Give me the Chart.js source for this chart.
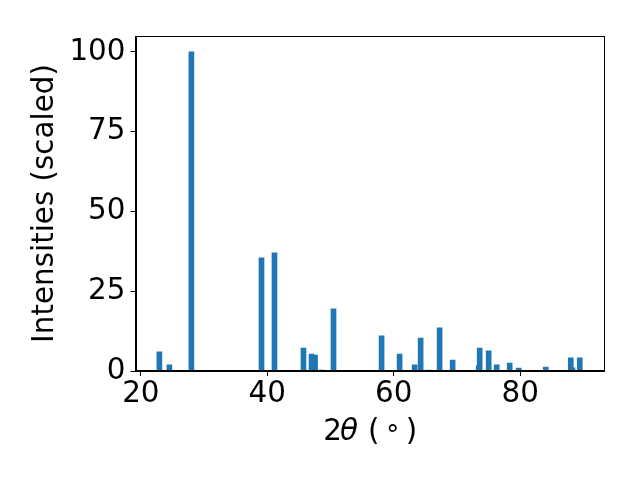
<!DOCTYPE html>
<html>
<head>
<meta charset="utf-8">
<script src="https://cdn.jsdelivr.net/npm/chart.js@4/dist/chart.umd.min.js"></script>
<style>
  html, body { margin: 0; padding: 0; background: #ffffff; }
  #wrap { width: 640px; height: 480px; position: relative; }
</style>
</head>
<body>
<div id="wrap"><canvas id="c" width="640" height="480"></canvas></div>
<script>
// ---- data ----
const twoTheta = [22.93, 24.51, 27.99, 39.08, 41.13, 45.72, 46.99, 47.55, 48.57, 50.47,
                  58.07, 60.92, 63.30, 64.25, 65.52, 67.25, 69.31, 73.43, 73.59, 75.01,
                  76.28, 78.34, 79.76, 84.04, 88.00, 88.26, 89.42];
const intensities = [6.0, 1.9, 100, 35.45, 37.0, 7.2, 5.3, 5.0, 0.3, 19.45,
                     11.0, 5.3, 1.9, 10.35, 0.3, 13.5, 3.45, 1.6, 7.2, 6.3,
                     1.9, 2.5, 0.95, 1.25, 4.1, 1.0, 4.1];
const xTicks = [20, 40, 60, 80];
const yTicks = [0, 25, 50, 75, 100];
const xRange = [19.15, 93.3];
const yRange = [0, 105];
const yTitle = 'Intensities (scaled)';
// x-axis title pieces: text, style, size factor, x offset from axis centre, baseline shift
const xTitleText  = ['2', 'θ', '(', '°', ')'];
const xTitleStyle = ['normal', 'italic', 'normal', 'normal', 'normal'];

const FONT = "'DejaVu Sans'";
const FS = 29.4;
const BLUE = '#1f77b4';

const points = twoTheta.map((x, i) => ({ x: x, y: intensities[i] }));

const framePlugin = {
  id: 'frame',
  afterDraw(chart) {
    const { ctx, chartArea: a } = chart;
    ctx.save();
    ctx.strokeStyle = '#000';
    ctx.lineWidth = 1;
    ctx.strokeRect(Math.round(a.left) + 0.5, Math.round(a.top) + 0.5,
                   Math.round(a.right - a.left) - 1, Math.round(a.bottom - a.top) - 1);
    // x-axis title, mathtext-like layout: 2θ ( ° )
    const cx = (a.left + a.right) / 2;
    const base = a.bottom + 69.3;
    const offs = [-37.2, -20.9, 3.8, 22.9, 41.6];
    const sizes = [FS, FS, FS, FS * 0.88, FS];
    const shifts = [0, 0, 0, 3.5, 0];
    ctx.fillStyle = '#000';
    ctx.textBaseline = 'alphabetic';
    ctx.textAlign = 'center';
    xTitleText.forEach((t, i) => {
      ctx.font = xTitleStyle[i] + ' ' + sizes[i] + 'px ' + FONT;
      ctx.fillText(t, cx + offs[i], base + shifts[i]);
    });
    ctx.restore();
  }
};

new Chart(document.getElementById('c'), {
  type: 'bar',
  data: {
    datasets: [{
      data: points,
      backgroundColor: BLUE,
      borderWidth: 0,
      barThickness: 5,
      grouped: false
    }]
  },
  options: {
    responsive: false,
    devicePixelRatio: 1,
    animation: false,
    events: [],
    layout: { padding: { top: 36, right: 35.7, left: 0, bottom: 0 } },
    plugins: { legend: { display: false }, tooltip: { enabled: false } },
    scales: {
      x: {
        type: 'linear',
        min: xRange[0],
        max: xRange[1],
        offset: false,
        afterBuildTicks: (s) => { s.ticks = xTicks.map(v => ({ value: v })); },
        afterFit: (s) => { s.height = 109; },
        grid: { offset: false, drawOnChartArea: false, drawTicks: true, tickLength: 5, tickColor: '#000', tickWidth: 1 },
        border: { display: true, color: '#000', width: 1 },
        ticks: { color: '#000', padding: 1, maxRotation: 0, autoSkip: false,
                 font: { family: FONT, size: FS } },
        title: { display: false }
      },
      y: {
        type: 'linear',
        min: yRange[0],
        max: yRange[1],
        afterBuildTicks: (s) => { s.ticks = yTicks.map(v => ({ value: v })); },
        afterFit: (s) => { s.width = 135.5; },
        grid: { drawOnChartArea: false, drawTicks: true, tickLength: 5, tickColor: '#000', tickWidth: 1 },
        border: { display: true, color: '#000', width: 1 },
        ticks: { color: '#000', padding: 5, autoSkip: false,
                 font: { family: FONT, size: FS } },
        title: { display: true, text: yTitle, color: '#000',
                 font: { family: FONT, size: FS }, padding: { top: 27.5, bottom: 0 } }
      }
    }
  },
  plugins: [framePlugin]
});
</script>
</body>
</html>
